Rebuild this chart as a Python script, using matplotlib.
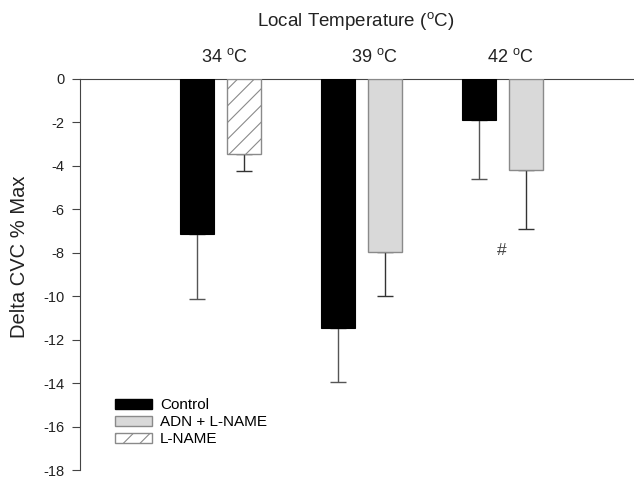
import matplotlib
matplotlib.use("Agg")
import matplotlib.pyplot as plt
import numpy as np
from matplotlib.patches import Patch

plt.rcParams['font.family'] = ['Liberation Sans', 'DejaVu Sans']
plt.rcParams['hatch.color'] = '#555555'
plt.rcParams['hatch.linewidth'] = 0.8

groups = ["34", "39", "42"]
control = [-7.12, -11.45, -1.87]
control_err = [3.0, 2.5, 2.75]
second = [-3.45, -7.95, -4.18]
second_err = [0.8, 2.05, 2.72]
second_kind = ["L-NAME", "ADN + L-NAME", "ADN + L-NAME"]
label_shift = [0.03, 0.09, 0.055]
yticks = list(range(-18, 1, 2))

fig = plt.figure(figsize=(6.34, 4.8), dpi=100)
ax = fig.add_axes([80/634, 1-470/480, 1-80/634, (470-79)/480])

x = np.arange(len(groups))
w = 0.24
off = 0.166
gray = '#d9d9d9'
edge_gray = '#8a8a8a'

ax.bar(x - off, control, width=w, color='black', edgecolor='black', linewidth=0.8, zorder=3)
ax.errorbar(x - off, control, yerr=[control_err, [0]*3], fmt='none', ecolor='#555555',
            elinewidth=1.0, capsize=6, capthick=1.0, zorder=2)
for xi, v, e, k in zip(x + off, second, second_err, second_kind):
    if k == "L-NAME":
        ax.bar(xi, v, width=w, color='white', edgecolor=edge_gray, hatch='//', linewidth=1.0, zorder=3)
    else:
        ax.bar(xi, v, width=w, color=gray, edgecolor=edge_gray, linewidth=1.0, zorder=3)
    ax.errorbar(xi, v, yerr=[[e], [0]], fmt='none', ecolor='#333333',
                elinewidth=1.0, capsize=6, capthick=1.0, zorder=2)

ax.text(2 - 0.005, -7.9, '#', ha='center', va='center', fontsize=12.5, color='#444444')

ax.set_xlim(-0.993, 2.93)
ax.set_ylim(-18, 0)
ax.set_yticks(yticks)
ax.set_yticklabels([str(t) for t in yticks], fontsize=10.5, color='#222222')
ax.set_xticks([])
ax.spines['right'].set_visible(False)
ax.spines['bottom'].set_visible(False)
ax.spines['top'].set_color('#444444')
ax.spines['left'].set_color('#444444')
ax.tick_params(axis='y', direction='out', length=6, width=0.8, color='#444444', pad=5)
fig.text(20/634, 1-257/480, 'Delta CVC % Max', rotation=90, ha='center', va='center',
         fontsize=14.5, color='#222222')

for xi, g, s in zip(x, groups, label_shift):
    ax.text(xi + s, 1.055, g + r' $^{\mathregular{o}}$C', transform=ax.get_xaxis_transform(),
            ha='center', va='center', fontsize=13, color='#222222')

fig.text(356/634, 1-22/480, r'Local Temperature ($^{\mathregular{o}}$C)', ha='center', va='center',
         fontsize=13.5, color='#222222')

handles = [Patch(facecolor='black', edgecolor='black', label='Control'),
           Patch(facecolor=gray, edgecolor=edge_gray, label='ADN + L-NAME'),
           Patch(facecolor='white', edgecolor=edge_gray, hatch='//', label='L-NAME')]
leg = ax.legend(handles=handles, loc='upper left', bbox_to_anchor=(35/554, 1-(398-79)/391),
                frameon=False, fontsize=11, handlelength=2.4, handleheight=0.65,
                labelspacing=0.2, handletextpad=0.55, borderaxespad=0, borderpad=0)

fig.savefig('out.png', dpi=100)
